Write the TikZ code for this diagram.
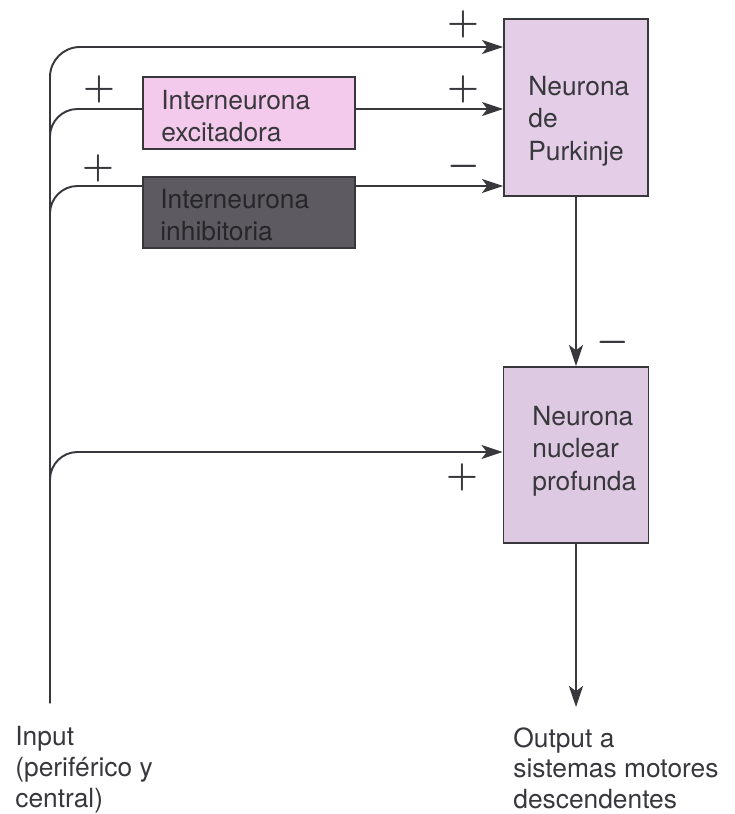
\documentclass[tikz,border=0pt]{standalone}
\usepackage{fontspec}
\setmainfont{TeX Gyre Heros}
\usetikzlibrary{arrows.meta}
\definecolor{ink}{RGB}{55,55,60}
\definecolor{excfill}{RGB}{244,202,236}
\definecolor{purkfill}{RGB}{228,206,231}
\definecolor{nucfill}{RGB}{222,201,226}
\definecolor{inhfill}{RGB}{93,91,97}
\definecolor{inhtext}{RGB}{38,38,42}
\tikzset{
	cell/.style={draw=ink, line width=1.1pt, inner sep=0pt},
	celltext/.style={anchor=west, align=left, inner sep=0pt, text=ink,
			font=\fontsize{15}{18.5}\selectfont},
	endtext/.style={celltext, anchor=north west, font=\fontsize{15}{17.6}\selectfont},
	sign/.style={inner sep=0pt, text=ink, font=\fontsize{20}{20}\selectfont\boldmath},
	link/.style={draw=ink, line width=1.1pt},
	arr/.style={link, -{Stealth[length=12pt,width=8pt,inset=3pt]}}
}

\begin{document}
\begin{tikzpicture}[x=0.02cm,y=-0.02cm]
			\useasboundingbox (0,0) rectangle (734,814);
			\node[cell, fill=excfill, minimum width=4.24cm, minimum height=1.44cm] (exc) at (249,113) {};
			\node[cell, fill=inhfill, minimum width=4.24cm, minimum height=1.42cm] (inh) at (249,212.5) {};
			\node[cell, fill=purkfill, minimum width=2.88cm, minimum height=3.54cm] (purk) at (576,107.5) {};
			\node[cell, fill=nucfill, minimum width=2.9cm, minimum height=3.52cm] (nuc) at (576,455) {};
			\node[celltext] (exctext) at (161,116) {Interneurona\\excitadora};
			\node[celltext, text=inhtext] (inhtext) at (160,215) {Interneurona\\inhibitoria};
			\node[celltext] (purktext) at (528,121) {Neurona\\de\\Purkinje};
			\node[celltext] (nuctext) at (532,451) {Neurona\\nuclear\\profunda};
			\node[endtext] (input) at (15,726) {Input\\(periférico y\\central)};
			\node[endtext] (output) at (513,727) {Output a\\sistemas motores\\descendentes};
			\coordinate (in) at (50,703);
			\coordinate (out) at (576,707);
			\draw[arr, rounded corners=0.6cm] (in) |- (purk.west |- 0,47);
			\draw[link, rounded corners=0.55cm] (in) |- (exc.west |- 0,109);
			\draw[arr] (exc.east |- 0,109) -- (purk.west |- 0,109);
			\draw[link, rounded corners=0.55cm] (in) |- (inh.west |- 0,186);
			\draw[arr] (inh.east |- 0,186) -- (purk.west |- 0,186);
			\draw[arr, rounded corners=0.55cm] (in) |- (nuc.west |- 0,452);
			\draw[arr] (purk.south) -- (nuc.north);
			\draw[arr] (nuc.south) -- (out);
			\node[sign] (p1) at (463,24) {$+$};
			\node[sign] (p2) at (99,89) {$+$};
			\node[sign] (p3) at (463,89) {$+$};
			\node[sign] (p4) at (98,168) {$+$};
			\node[sign] (m1) at (464,166) {$-$};
			\node[sign] (m2) at (613,342) {$-$};
			\node[sign] (p5) at (462,477) {$+$};
		\end{tikzpicture}
\end{document}
